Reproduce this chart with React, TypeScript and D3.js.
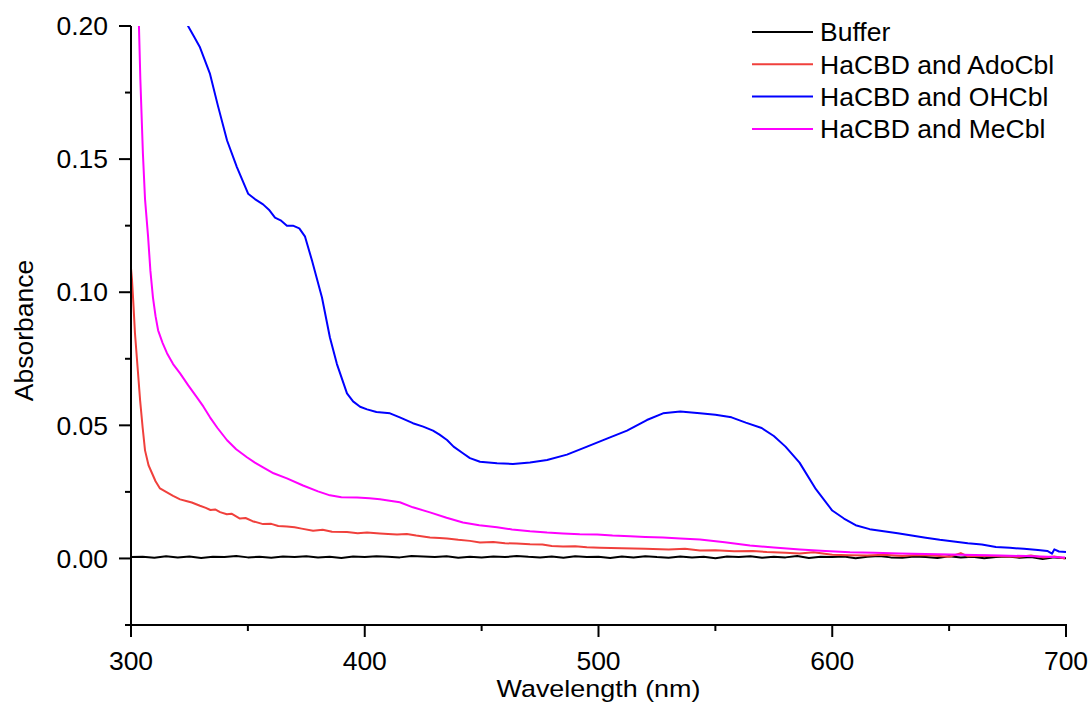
import React from "react";
import * as d3 from "d3";

type Pt = [number, number];

const SERIES_NAMES = ["Buffer", "HaCBD and AdoCbl", "HaCBD and OHCbl", "HaCBD and MeCbl"];
const SERIES_COLORS = ["#000000", "#f0403c", "#0000ff", "#ff00ff"];

const X_TICKS = [300, 400, 500, 600, 700];
const X_MINOR = [350, 450, 550, 650];
const Y_TICKS = [0, 0.05, 0.1, 0.15, 0.2];
const Y_MINOR = [-0.025, 0.025, 0.075, 0.125, 0.175];

const BUFFER_START = 300;
const BUFFER_STEP = 5;
const BUFFER_VALUES = [
  0.0005, 0.0006, 0.0003, 0.0008, 0.0004, 0.0007, 0.0002, 0.0006, 0.0005, 0.0009,
  0.0004, 0.0006, 0.0003, 0.0007, 0.0005, 0.0008, 0.0004, 0.0006, 0.0002, 0.0007,
  0.0005, 0.0008, 0.0006, 0.0004, 0.0009, 0.0007, 0.0005, 0.0008, 0.0003, 0.0006,
  0.0004, 0.0007, 0.0005, 0.0009, 0.0006, 0.0004, 0.0007, 0.0003, 0.0008, 0.0005,
  0.0006, 0.0002, 0.0007, 0.0004, 0.0008, 0.0005, 0.0003, 0.0007, 0.0004, 0.0006,
  0.0001, 0.0007, 0.0005, 0.0008, 0.0003, 0.0006, 0.0004, 0.0009, 0.0002, 0.0006,
  0.0005, 0.0007, 0.0001, 0.0006, 0.0009, 0.0004, 0.0003, 0.0007, 0.0005, 0.0002,
  0.0008, 0.0004, 0.0006, 0.0001, 0.0005, 0.0007, 0.0003, 0.0005, -0.0002, 0.0004,
  0.0001,
];

const ADOCBL: Pt[] = [
  [300, 0.109], [300.4, 0.105], [301, 0.096], [301.7, 0.0846], [302.8, 0.072], [303.9, 0.0594],
  [305, 0.049], [306, 0.0406], [307.5, 0.035], [309, 0.032], [310.5, 0.029], [312.4, 0.0263],
  [315, 0.025], [318, 0.0235], [321, 0.0222], [324, 0.0215], [326, 0.021], [329.5, 0.0198],
  [332, 0.019], [334, 0.0182], [336, 0.0184], [338.1, 0.0174], [341, 0.0166], [343, 0.0168],
  [346.6, 0.015], [349, 0.0152], [352, 0.014], [356.5, 0.0129], [360, 0.013], [363, 0.0122],
  [366.7, 0.012], [370, 0.0117], [373, 0.0112], [377.9, 0.0104], [382, 0.0108], [386, 0.01],
  [392.4, 0.0099], [397, 0.0095], [401, 0.0097], [406.5, 0.0094], [410, 0.0092], [413.8, 0.009],
  [418, 0.0092], [422, 0.0086], [427.9, 0.0079], [432, 0.0077], [435.2, 0.0075], [440, 0.007],
  [445, 0.0066], [449.3, 0.006], [455, 0.0062], [460, 0.0057], [465, 0.0056], [470.7, 0.0053],
  [476, 0.0052], [480, 0.0047], [484.8, 0.0045], [490, 0.0046], [495, 0.0042], [500.6, 0.004],
  [510, 0.0038], [520, 0.0036], [530, 0.0034], [537, 0.0036], [543.4, 0.003], [550, 0.0031],
  [558, 0.0027], [566, 0.0028], [572, 0.0024], [580, 0.0021], [586, 0.0019], [592, 0.0023],
  [600, 0.0014], [607, 0.0012], [614.9, 0.0011], [622, 0.0014], [630, 0.0009], [636, 0.0013],
  [643, 0.0011], [650, 0.0006], [655, 0.002], [658, 0.0008], [665, 0.001], [671.8, 0.0008],
  [680, 0.0006], [685, 0.0011], [690, 0.0004], [695, 0.0007], [699.6, 0.0],
];

const OHCBL: Pt[] = [
  [322, 0.206], [324.4, 0.2], [327, 0.196], [329.5, 0.192], [333.8, 0.182], [337.2, 0.17],
  [341.1, 0.157], [345.3, 0.147], [350.1, 0.137], [353, 0.135], [356.5, 0.133], [359, 0.131],
  [361.6, 0.128], [364, 0.127], [366.7, 0.125], [369.3, 0.125], [372, 0.124], [374.4, 0.121],
  [377.4, 0.112], [381.7, 0.098], [385.1, 0.083], [388.1, 0.073], [392.4, 0.062], [395, 0.059],
  [398, 0.057], [401, 0.056], [405, 0.055], [410.8, 0.0545], [415, 0.053], [420.6, 0.0508],
  [425, 0.0495], [429.2, 0.048], [432, 0.0465], [435.2, 0.0445], [438, 0.042], [442, 0.0395],
  [445, 0.0377], [449.3, 0.0363], [456.6, 0.0358], [463.4, 0.0355], [470.7, 0.036], [478, 0.037],
  [486.5, 0.039], [495.1, 0.042], [503.6, 0.045], [512.2, 0.048], [520.7, 0.052], [527.6, 0.0545],
  [535, 0.0552], [543.4, 0.0545], [550, 0.054], [556.9, 0.053], [563, 0.051], [569.8, 0.049],
  [575, 0.046], [580, 0.042], [586, 0.036], [593, 0.026], [600, 0.018], [605, 0.015],
  [610, 0.0125], [616, 0.011], [622, 0.0102], [628, 0.0095], [634, 0.0086], [640, 0.0078],
  [646, 0.007], [652, 0.0064], [658, 0.0057], [664, 0.0052], [670, 0.0043], [676, 0.004],
  [682, 0.0036], [688, 0.0032], [692, 0.0028], [694, 0.0018], [695, 0.0034], [697, 0.0026],
  [700, 0.0024],
];

const MECBL: Pt[] = [
  [302.5, 0.23], [303.4, 0.2], [304, 0.18], [305.1, 0.152], [306, 0.135], [307.3, 0.121],
  [308.3, 0.108], [309.4, 0.098], [310.5, 0.091], [311.6, 0.0857], [313.5, 0.081], [315.4, 0.0771],
  [318, 0.073], [321, 0.0695], [324.5, 0.065], [328.2, 0.0605], [331, 0.057], [333.8, 0.053],
  [337, 0.049], [341.1, 0.0444], [345, 0.041], [349.6, 0.038], [353, 0.036], [356.5, 0.0342],
  [361, 0.032], [366.7, 0.0301], [373.6, 0.0274], [380, 0.0252], [385.1, 0.0237], [390, 0.023],
  [396.7, 0.0229], [402, 0.0226], [406.5, 0.0222], [410, 0.0218], [415, 0.0211], [420.6, 0.0192],
  [427.9, 0.0173], [435, 0.0153], [442, 0.0135], [449, 0.0125], [456.6, 0.0117], [463, 0.0109],
  [470.7, 0.0102], [478, 0.0097], [484.8, 0.0094], [492, 0.0091], [499.4, 0.009], [506, 0.0086],
  [513.5, 0.0083], [520, 0.0081], [527.6, 0.0079], [535, 0.0075], [543.4, 0.0071], [554, 0.0061],
  [564.8, 0.0049], [575, 0.0041], [586.2, 0.0034], [597, 0.0028], [607.6, 0.0023], [618, 0.0021],
  [629, 0.0019], [640, 0.0017], [650.4, 0.0015], [661, 0.0013], [671.8, 0.0011], [683, 0.0009],
  [692, 0.0006], [699.6, 0.0004],
];

const W = 1089;
const H = 704;
const LEFT = 131;
const RIGHT = 1066;
const TOP = 26;
const BOTTOM = 625;
const FONT = "'Liberation Sans', Arial, sans-serif";
const FS = 26.5;

export default function App() {
  const x = d3.scaleLinear().domain([300, 700]).range([LEFT, RIGHT]);
  const y = d3.scaleLinear().domain([-0.025, 0.2]).range([BOTTOM, TOP]);
  const line = d3
    .line<Pt>()
    .x((d) => x(d[0]))
    .y((d) => y(d[1]));

  const buffer: Pt[] = BUFFER_VALUES.map((v, i) => [BUFFER_START + i * BUFFER_STEP, v]);
  const data: Pt[][] = [buffer, ADOCBL, OHCBL, MECBL];
  const drawOrder = [0, 1, 3, 2];

  return (
    <svg
      width={W}
      height={H}
      style={{ position: "absolute", left: 0, top: 0, background: "#fff" }}
      fontFamily={FONT}
    >
      <defs>
        <clipPath id="plot">
          <rect x={LEFT} y={TOP} width={RIGHT - LEFT + 2} height={BOTTOM - TOP} />
        </clipPath>
      </defs>
      <g clipPath="url(#plot)">
        {drawOrder.map((i) => (
          <path
            key={i}
            d={line(data[i]) || ""}
            fill="none"
            stroke={SERIES_COLORS[i]}
            strokeWidth={2}
            strokeLinejoin="round"
          />
        ))}
      </g>
      {/* axes */}
      <line x1={LEFT} x2={LEFT} y1={TOP} y2={BOTTOM} stroke="#000" strokeWidth={2} />
      <line x1={LEFT} x2={RIGHT + 1} y1={BOTTOM} y2={BOTTOM} stroke="#000" strokeWidth={2} />
      {Y_TICKS.map((t) => (
        <g key={"y" + t}>
          <line x1={LEFT - 12} x2={LEFT} y1={y(t)} y2={y(t)} stroke="#000" strokeWidth={2} />
          <text x={LEFT - 23} y={y(t)} dy="0.35em" textAnchor="end" fontSize={FS}>
            {d3.format(".2f")(t)}
          </text>
        </g>
      ))}
      {Y_MINOR.map((t) => (
        <line key={"ym" + t} x1={LEFT - 6} x2={LEFT} y1={y(t)} y2={y(t)} stroke="#000" strokeWidth={2} />
      ))}
      {X_TICKS.map((t) => (
        <g key={"x" + t}>
          <line x1={x(t)} x2={x(t)} y1={BOTTOM} y2={BOTTOM + 12} stroke="#000" strokeWidth={2} />
          <text x={x(t)} y={BOTTOM + 45} textAnchor="middle" fontSize={FS}>
            {t}
          </text>
        </g>
      ))}
      {X_MINOR.map((t) => (
        <line key={"xm" + t} x1={x(t)} x2={x(t)} y1={BOTTOM} y2={BOTTOM + 6} stroke="#000" strokeWidth={2} />
      ))}
      <text
        x={(LEFT + RIGHT) / 2}
        y={697}
        textAnchor="middle"
        fontSize={24.5}
        textLength={204}
        lengthAdjust="spacingAndGlyphs"
      >
        Wavelength (nm)
      </text>
      <text
        transform={`translate(33, ${(TOP + BOTTOM) / 2 + 5}) rotate(-90)`}
        textAnchor="middle"
        fontSize={FS}
      >
        Absorbance
      </text>
      {/* legend */}
      {SERIES_NAMES.map((name, i) => (
        <g key={name} transform={`translate(752, ${32 + i * 32.3})`}>
          <line x1={0} x2={61} y1={0} y2={0} stroke={SERIES_COLORS[i]} strokeWidth={2} />
          <text x={68} y={0} dy="0.35em" fontSize={FS}>
            {name}
          </text>
        </g>
      ))}
    </svg>
  );
}
